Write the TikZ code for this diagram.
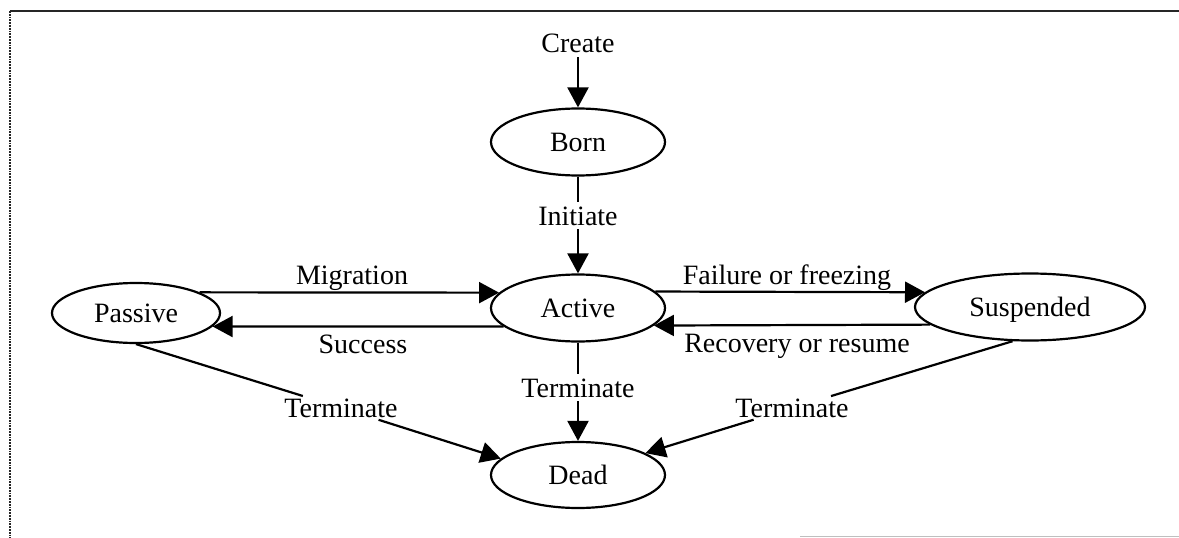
\documentclass[tikz,border=0pt]{standalone}
\usepackage{fontspec}
\setmainfont{Liberation Serif}
\usetikzlibrary{arrows.meta,shapes.geometric}
\begin{document}
\begin{tikzpicture}[x=1pt,y=-1pt,
  every node/.style={font=\fontsize{28}{30}\selectfont},
  state/.style={draw, ellipse, line width=2.2pt, inner sep=0pt, text depth=0pt, minimum height=67pt},
  lbl/.style={ellipse, inner sep=0pt, anchor=base},
  txt/.style={anchor=base, inner sep=0pt},
  arr/.style={line width=2.2pt, -{Triangle[length=20pt,width=21pt]}},
  ln/.style={line width=2.2pt},
  frametop/.style={line width=2pt, black!85},
  frameleft/.style={line width=1.8pt, densely dotted, black!85},
  framebottom/.style={line width=1pt, black!25}]
\useasboundingbox (0,0) rectangle (1179,538);
% frame
\draw[frametop] (10,11) -- (1179,11);
\draw[frameleft] (10,11) -- (10,538);
\draw[framebottom] (800,536.5) -- (1179,536.5);
% states
\node[state, minimum width=174pt] (born) at (578,142) {Born};
\node[state, minimum width=174pt] (active) at (578,308) {Active};
\node[state, minimum width=168pt, minimum height=60pt] (passive) at (136,313) {Passive};
\node[state, minimum width=230pt] (suspended) at (1030,307) {Suspended};
\node[state, minimum width=174pt, minimum height=66pt] (dead) at (578,475) {Dead};
% labels
\node[anchor=base, inner sep=5pt] (create) at (578,52) {Create};
\node[lbl] (init) at (578,225) {Initiate};
\node[lbl] (tA) at (578,397) {Terminate};
\node[lbl] (tP) at (341,417) {Terminate};
\node[lbl] (tS) at (792,417) {Terminate};
\node[txt] (lmig) at (352,284) {Migration};
\node[txt] (lsuc) at (363,353) {Success};
\node[txt] (lfail) at (787,284) {Failure or freezing};
\node[txt] (lrec) at (797,352) {Recovery or resume};
% connectors
\draw[arr] (create) -- (born);
\draw[ln] (born) -- (init);
\draw[arr] (init) -- (active);
\draw[arr] (passive.18) -- (active.169);
\draw[arr] (active.194) -- (passive.350);
\draw[arr] (active.12) -- (suspended.172);
\draw[arr] (suspended.190) -- (active.347);
\draw[ln] (active) -- (tA);
\draw[arr] (tA) -- (dead);
\draw[ln] (passive.south) -- (tP);
\draw[arr] (tP) -- (dead.168);
\draw[ln] (suspended.243) -- (tS);
\draw[arr] (tS) -- (dead.18);
\end{tikzpicture}
\end{document}
